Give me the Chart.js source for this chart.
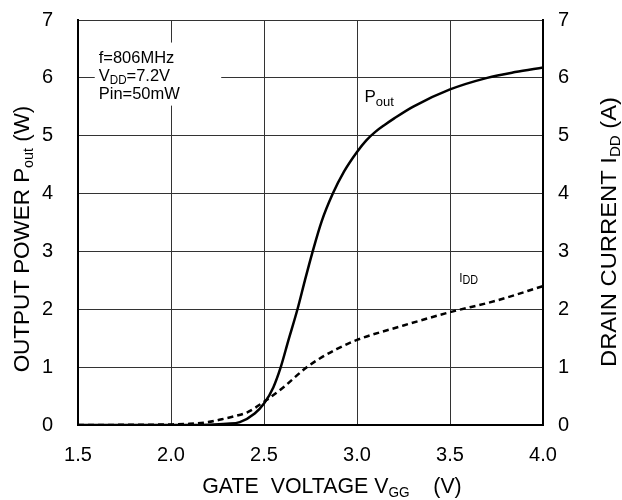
<!DOCTYPE html>
<html>
<head>
<meta charset="utf-8">
<script src="https://cdn.jsdelivr.net/npm/chart.js@4.4.1/dist/chart.umd.min.js"></script>
<style>
  html, body { margin: 0; padding: 0; background: #fff; }
  #wrap { width: 622px; height: 500px; }
</style>
</head>
<body>
<div id="wrap"><canvas id="myChart" width="622" height="500"></canvas></div>
<script>
// gate voltage (V) / output power (W)
const poutV = [1.5, 2.0, 2.2, 2.3, 2.37, 2.45, 2.5, 2.55, 2.59, 2.63, 2.68, 2.72, 2.76, 2.81, 2.87, 2.93, 3.0, 3.05, 3.1, 3.15, 3.2, 3.3, 3.5, 3.7, 3.85, 4.0];
const poutW = [0, 0, 0.005, 0.02, 0.05, 0.2, 0.37, 0.65, 1.0, 1.45, 2.0, 2.5, 2.98, 3.52, 4.0, 4.38, 4.72, 4.92, 5.07, 5.19, 5.3, 5.5, 5.8, 6.0, 6.1, 6.18];

// gate voltage (V) / drain current (A)
const iddV = [1.5, 2.0, 2.1, 2.2, 2.26, 2.34, 2.41, 2.5, 2.6, 2.73, 2.8, 2.89, 3.0, 3.25, 3.5, 3.75, 4.0];
const iddA = [0, 0.01, 0.02, 0.05, 0.09, 0.15, 0.22, 0.4, 0.64, 1.0, 1.15, 1.31, 1.47, 1.72, 1.95, 2.15, 2.4];

const xTicks = [1.5, 2.0, 2.5, 3.0, 3.5, 4.0];
const yTicks = [0, 1, 2, 3, 4, 5, 6, 7];

const FONT = '"Liberation Sans", Arial, sans-serif';

function toPoints(xs, ys) {
    return xs.map((x, i) => ({ x: x, y: ys[i] }));
}

// draws a run of text pieces, some as subscripts; sx squeezes it sideways
function drawRich(ctx, parts, x, y, size, align, sx, subSize) {
    sx = sx || 1;
    subSize = subSize || size * 0.62;
    let total = 0;
    for (let p of parts) {
        ctx.font = (p.sub ? subSize : size) + 'px ' + FONT;
        total += ctx.measureText(p.t).width;
    }
    ctx.save();
    ctx.translate(x, y);
    ctx.scale(sx, 1);
    let cx = align === 'center' ? -total / 2 : 0;
    ctx.textBaseline = 'alphabetic';
    ctx.textAlign = 'left';
    for (let p of parts) {
        ctx.font = (p.sub ? subSize : size) + 'px ' + FONT;
        ctx.fillText(p.t, cx, p.sub ? size * 0.2 : 0);
        cx += ctx.measureText(p.t).width;
    }
    ctx.restore();
}

// keep the plot box where the reference has it
function noPad(s) {
    s.paddingTop = 0;
    s.paddingBottom = 0;
}

const labels = {
    id: 'labels',
    afterDraw(chart) {
        const ctx = chart.ctx;
        const xs = chart.scales.x;
        const ys = chart.scales.y;
        ctx.save();

        // condition box
        const bx = xs.getPixelForValue(1.59);
        const bx2 = xs.getPixelForValue(2.27);
        const by = ys.getPixelForValue(6.61);
        const by2 = ys.getPixelForValue(5.52);
        ctx.fillStyle = '#fff';
        ctx.fillRect(bx, by, bx2 - bx, by2 - by);
        ctx.fillStyle = '#000';
        drawRich(ctx, [{ t: 'f=806MHz' }], bx + 4, by + 20, 17, 'left', 0.97);
        drawRich(ctx, [{ t: 'V' }, { t: 'DD', sub: true }, { t: '=7.2V' }], bx + 4, by + 38, 17, 'left', 0.97, 12);
        drawRich(ctx, [{ t: 'Pin=50mW' }], bx + 4, by + 56, 17, 'left', 0.97);

        // curve names
        drawRich(ctx, [{ t: 'P' }, { t: 'out', sub: true }], xs.getPixelForValue(3.04), ys.getPixelForValue(5.58), 17, 'left', 1, 13);
        drawRich(ctx, [{ t: 'I' }, { t: 'DD', sub: true }], xs.getPixelForValue(3.55), ys.getPixelForValue(2.48), 13, 'left', 0.9, 12);

        // axis titles
        drawRich(ctx, [{ t: 'GATE  VOLTAGE V' }, { t: 'GG', sub: true }, { t: '    (V)' }], 332, 493, 22, 'center', 0.97, 14);

        ctx.translate(29, 239);
        ctx.rotate(-Math.PI / 2);
        drawRich(ctx, [{ t: 'OUTPUT POWER P' }, { t: 'out', sub: true }, { t: ' (W)' }], 0, 0, 22, 'center', 1.02, 14);
        ctx.restore();

        ctx.save();
        ctx.fillStyle = '#000';
        ctx.translate(616, 232);
        ctx.rotate(-Math.PI / 2);
        drawRich(ctx, [{ t: 'DRAIN CURRENT I' }, { t: 'DD', sub: true }, { t: ' (A)' }], 0, 0, 22, 'center', 1.08, 14);
        ctx.restore();
    }
};

var ctx = document.getElementById('myChart').getContext('2d');
var myChart = new Chart(ctx, {
    type: 'scatter',
    data: {
        datasets: [{
            label: 'Pout',
            data: toPoints(poutV, poutW),
            showLine: true,
            borderColor: '#000',
            borderWidth: 2.5,
            pointRadius: 0,
            cubicInterpolationMode: 'monotone',
            yAxisID: 'y'
        }, {
            label: 'IDD',
            data: toPoints(iddV, iddA),
            showLine: true,
            borderColor: '#000',
            borderWidth: 2.5,
            borderDash: [6, 4],
            pointRadius: 0,
            cubicInterpolationMode: 'monotone',
            yAxisID: 'y1'
        }]
    },
    options: {
        responsive: false,
        animation: false,
        layout: { padding: { top: 20, right: 0, bottom: 0, left: 0 } },
        plugins: {
            legend: { display: false },
            tooltip: { enabled: false }
        },
        scales: {
            x: {
                type: 'linear',
                min: 1.5,
                max: 4.0,
                afterBuildTicks: (s) => { s.ticks = xTicks.map(v => ({ value: v })); },
                afterFit: (s) => { s.height = 75; },
                ticks: {
                    color: '#000',
                    font: { family: FONT, size: 20 },
                    padding: 18,
                    maxRotation: 0,
                    callback: (v) => v.toFixed(1)
                },
                grid: { color: '#333', lineWidth: 1, drawTicks: false },
                border: { color: '#000', width: 2 }
            },
            y: {
                position: 'left',
                min: 0,
                max: 7,
                afterBuildTicks: (s) => { s.ticks = yTicks.map(v => ({ value: v })); },
                afterFit: (s) => { s.width = 78; noPad(s); },
                ticks: {
                    color: '#000',
                    font: { family: FONT, size: 20 },
                    padding: 25
                },
                grid: { color: '#333', lineWidth: 1, drawTicks: false },
                border: { color: '#000', width: 2 }
            },
            y1: {
                position: 'right',
                min: 0,
                max: 7,
                afterBuildTicks: (s) => { s.ticks = yTicks.map(v => ({ value: v })); },
                afterFit: (s) => { s.width = 79; noPad(s); },
                ticks: {
                    color: '#000',
                    font: { family: FONT, size: 20 },
                    padding: 15
                },
                grid: { display: false, drawTicks: false },
                border: { color: '#000', width: 2 }
            }
        }
    },
    plugins: [labels]
});
</script>
</body>
</html>
